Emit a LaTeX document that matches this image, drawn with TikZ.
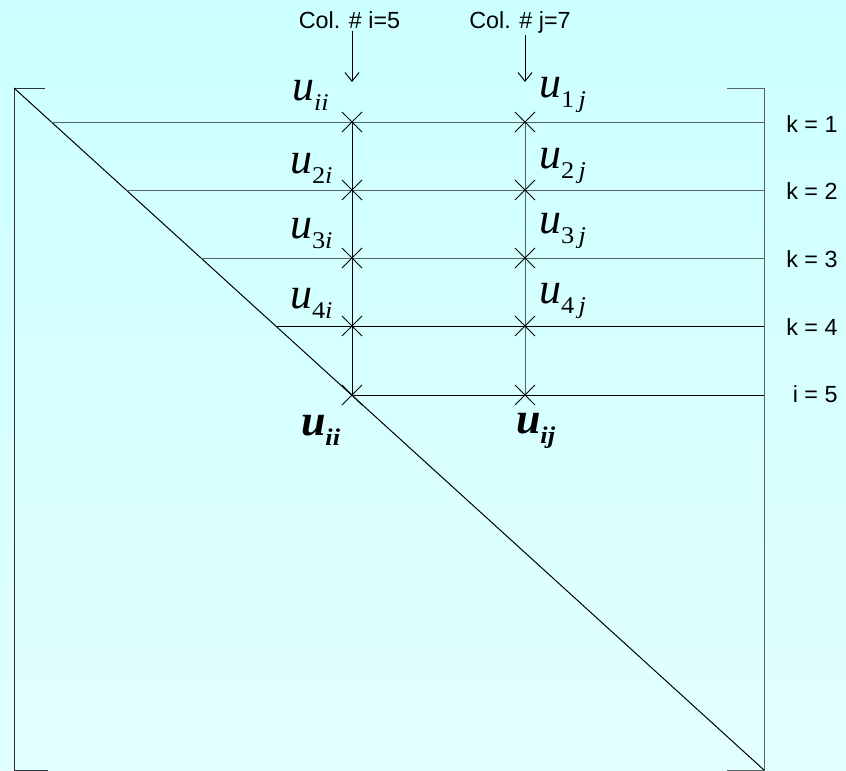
\documentclass[tikz,border=0pt]{standalone}
\usepackage{fontspec}
\setmainfont{Liberation Serif}
\newfontfamily\sansfnt{Liberation Sans}
\usetikzlibrary{arrows.meta}
\definecolor{bgtop}{RGB}{204,255,255}
\definecolor{bgbot}{RGB}{226,255,255}
\definecolor{ln}{RGB}{0,0,0}
\definecolor{lngray}{RGB}{90,100,100}
\newcommand\ulab[2][\mdseries]{{\fontsize{33}{33}\selectfont#1\itshape u}\raisebox{-7.5pt}{\scalebox{1.1}[1]{\fontsize{18}{18}\selectfont#1#2}}}
\newcommand\sdig[1]{\upshape #1}
\newcommand\sit[1]{\itshape #1}
\begin{document}
\begin{tikzpicture}[x=0.75pt,y=-0.75pt,line width=0.75pt,
  grayline/.style={draw=lngray},
  blackline/.style={draw=ln},
  ulabel/.style={anchor=base west,inner sep=0pt,outer sep=0pt},
  coltext/.style={anchor=base,inner sep=0pt,font=\sansfnt\fontsize{17.5}{17.5}\selectfont},
  rowtext/.style={anchor=base east,inner sep=0pt,font=\sansfnt\fontsize{17.5}{17.5}\selectfont},
  colarrow/.style={draw=ln,-{Straight Barb[length=6.5pt,width=10.5pt]}},
  crossmark/.style={draw=ln,line width=0.7pt}]
\shade[top color=bgtop,bottom color=bgbot] (0,0) rectangle (846,771);
\useasboundingbox (0,0) rectangle (846,771);
% bracket corners
\coordinate (TL) at (14,88);
\coordinate (BL) at (14,770);
\coordinate (TR) at (764,88);
\coordinate (BR) at (764,770);
\coordinate (TLt) at (45,88);
\coordinate (BLt) at (48,770);
\coordinate (TRt) at (727,88);
\coordinate (BRt) at (727,770);
\draw[draw=black!80] (TLt) -- (TL) -- (BL) -- (BLt);
\draw[draw=lngray] (TRt) -- (TR) -- (BR) -- (BRt);
\draw[blackline] (TL) -- (BR);
% row starts on diagonal
\coordinate (D1) at (51.4,122);
\coordinate (D2) at (126.2,190);
\coordinate (D3) at (200.9,258);
\coordinate (D4) at (275.7,326);
\coordinate (I1) at (352,122);
\coordinate (I2) at (352,190);
\coordinate (I3) at (352,258);
\coordinate (I4) at (352,326);
\coordinate (I5) at (352,395);
\coordinate (J1) at (525,122);
\coordinate (J2) at (525,190);
\coordinate (J3) at (525,258);
\coordinate (J4) at (525,326);
\coordinate (J5) at (525,395);
\coordinate (R1) at (764,122);
\coordinate (R2) at (764,190);
\coordinate (R3) at (764,258);
\coordinate (R4) at (764,326);
\coordinate (R5) at (764,395);
\draw[grayline] (D1) -- (R1);
\draw[grayline] (D2) -- (R2);
\draw[grayline] (D3) -- (R3);
\draw[blackline] (D4) -- (R4);
\draw[blackline] (I5) -- (R5);
\draw[blackline] (I1) -- (I5);
\draw[grayline] (J1) -- (J5);
% crosses
\foreach \c in {I1,I2,I3,I4,I5,J1,J2,J3,J4,J5}{
  \draw[crossmark] (\c) ++(-10,-10) -- ++(20,20) ++(0,-20) -- ++(-20,20);
}
% column headers and arrows
\node[coltext] (ci) at (349.5,28) {Col. \# i=5};
\node[coltext] (cj) at (520,28) {Col. \# j=7};
\coordinate (ai) at (352,82);
\coordinate (aj) at (525,82);
\draw[colarrow] (ci.south -| ai) ++(0,2) -- (ai);
\draw[colarrow] (cj.south -| aj) ++(0,2) -- (aj);
% row labels
\node[rowtext] (k1) at (838,132) {k = 1};
\node[rowtext] (k2) at (838,199) {k = 2};
\node[rowtext] (k3) at (838,267) {k = 3};
\node[rowtext] (k4) at (838,335) {k = 4};
\node[rowtext] (k5) at (838,402) {i = 5};
% u labels
\node[ulabel] (u1i) at (292,100) {\ulab{\sit{ii}}};
\node[ulabel] (u2i) at (290,173) {\ulab{\sdig{2}\sit{i}}};
\node[ulabel] (u3i) at (290,238) {\ulab{\sdig{3}\sit{i}}};
\node[ulabel] (u4i) at (290,308) {\ulab{\sdig{4}\sit{i}}};
\node[ulabel] (u1j) at (539,97) {\ulab{\sdig{1}\,\sit{j}}};
\node[ulabel] (u2j) at (539,168) {\ulab{\sdig{2}\,\sit{j}}};
\node[ulabel] (u3j) at (539,233) {\ulab{\sdig{3}\,\sit{j}}};
\node[ulabel] (u4j) at (539,303) {\ulab{\sdig{4}\,\sit{j}}};
\node[ulabel] (uii) at (301,435) {\ulab[\bfseries]{\sit{ii}}};
\node[ulabel] (uij) at (516,433) {\ulab[\bfseries]{\sit{ij}}};
\end{tikzpicture}
\end{document}
